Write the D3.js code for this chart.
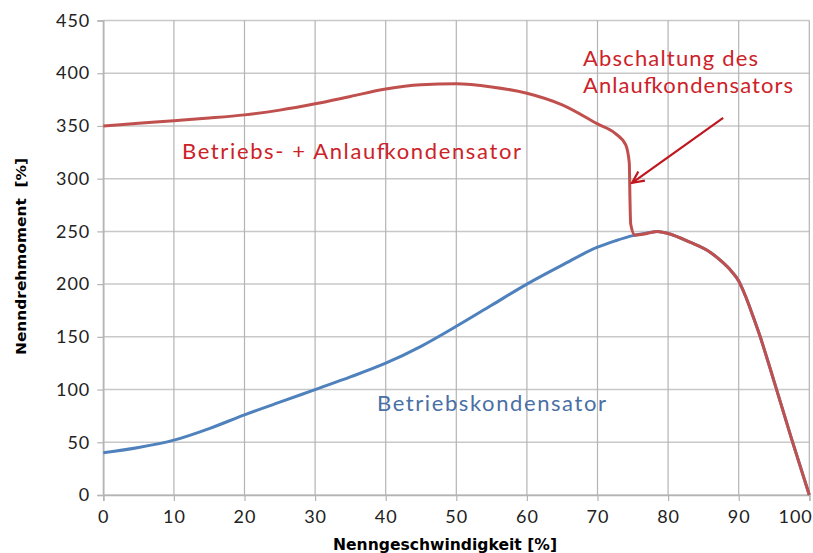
<!DOCTYPE html>
<html>
<head>
<meta charset="utf-8">
<script src="https://cdn.jsdelivr.net/npm/d3@7"></script>
<style>
  body { margin: 0; background: #fff; }
  svg { display: block; }
</style>
</head>
<body>
<div id="chart"></div>
<script>
// DATA
const xTicks = [0, 10, 20, 30, 40, 50, 60, 70, 80, 90, 100];
const yTicks = [0, 50, 100, 150, 200, 250, 300, 350, 400, 450];

// Betriebs- + Anlaufkondensator
const redX = [0, 5, 10, 15, 20, 25, 30, 35, 40, 45, 50, 55, 60, 65, 70, 72.5, 74, 74.5, 74.6, 74.7, 75.3, 77, 78.5, 80, 83, 86, 87.5, 89, 90, 91, 92, 93, 95, 97.5, 100];
const redY = [350, 352.5, 355, 357.5, 360.5, 365, 371, 378, 385, 389, 390, 387, 381, 370, 352, 343, 332, 315, 280, 257, 246.5, 248, 250, 248, 240, 230, 222, 212, 203, 188, 170, 151, 108, 53, 0];

// Betriebskondensator
const blueX = [0, 5, 10, 15, 20, 25, 30, 35, 40, 45, 50, 55, 60, 65, 70, 72.5, 75, 77, 78.5, 80, 83, 86, 87.5, 89, 90, 91, 92, 93, 95, 97.5, 100];
const blueY = [40, 45, 52, 63, 76, 88, 100, 112, 125, 141, 160, 180, 200, 218, 235, 241, 246, 248.5, 250, 248, 240, 230, 222, 212, 203, 188, 170, 151, 108, 53, 0];

const W = 813, H = 553;
const RED = "#c0504d", BLUE = "#4f81bd";
const FONT = "Lato, 'Open Sans', sans-serif";
const TITLE_FONT = "'DejaVu Sans', sans-serif";

const svg = d3.select("#chart").append("svg")
  .attr("width", W).attr("height", H);

const x = d3.scaleLinear().domain([0, 100]).range([103.3, 809.3]);
const y = d3.scaleLinear().domain([0, 450]).range([495, 20.5]);

// GRID
svg.append("g").selectAll("line").data(yTicks).join("line")
  .attr("x1", x(0)).attr("x2", x(100))
  .attr("y1", d => y(d)).attr("y2", d => y(d))
  .style("stroke", "#c8c8c8").style("stroke-width", 1.5);

svg.append("g").selectAll("line").data(xTicks).join("line")
  .attr("x1", d => x(d)).attr("x2", d => x(d))
  .attr("y1", y(0)).attr("y2", y(450))
  .style("stroke", "#b4b4b4").style("stroke-width", 1.2);

// AXES
const yAxis = svg.append("g")
  .attr("transform", `translate(${x(0)},0)`)
  .call(d3.axisLeft(y).tickValues(yTicks).tickSize(6).tickPadding(7));
const xAxis = svg.append("g")
  .attr("transform", `translate(0,${y(0)})`)
  .call(d3.axisBottom(x).tickValues(xTicks).tickSize(6).tickPadding(9));

[yAxis, xAxis].forEach(a => {
  a.select(".domain").style("stroke", "#b4b4b4").style("stroke-width", 1.5);
  a.selectAll(".tick line").style("stroke", "#b4b4b4").style("stroke-width", 1.2);
  a.selectAll(".tick text")
    .style("font-family", FONT)
    .style("font-size", "18px")
    .style("letter-spacing", "1px")
    .style("fill", "#222");
});
// last x label sits flush with the right edge
xAxis.selectAll(".tick text").filter(d => d === 100)
  .attr("text-anchor", "end").attr("x", 3);

// AXIS TITLES
svg.append("text")
  .attr("x", 333).attr("y", 550)
  .attr("textLength", 224).attr("lengthAdjust", "spacingAndGlyphs")
  .text("Nenngeschwindigkeit [%]")
  .style("font-family", TITLE_FONT)
  .style("font-weight", "bold")
  .style("font-size", "15px")
  .style("fill", "#000");

svg.append("text")
  .attr("transform", "translate(26,355) rotate(-90)")
  .attr("textLength", 197).attr("lengthAdjust", "spacingAndGlyphs")
  .attr("xml:space", "preserve")
  .text("Nenndrehmoment  [%]")
  .style("font-family", TITLE_FONT)
  .style("font-weight", "bold")
  .style("font-size", "14px")
  .style("fill", "#000");

// CURVES
const line = d3.line()
  .x(d => x(d[0])).y(d => y(d[1]))
  .curve(d3.curveMonotoneX);

svg.append("path")
  .datum(blueX.map((v, i) => [v, blueY[i]]))
  .attr("d", line)
  .style("fill", "none").style("stroke", BLUE).style("stroke-width", 3);

svg.append("path")
  .datum(redX.map((v, i) => [v, redY[i]]))
  .attr("d", line)
  .style("fill", "none").style("stroke", RED).style("stroke-width", 3);

// LABELS
const labelRed = "#cc2229", labelBlue = "#4a6fa5";
function label(tx, ty, str, len, color) {
  svg.append("text").attr("x", tx).attr("y", ty)
    .attr("textLength", len).attr("lengthAdjust", "spacing")
    .text(str)
    .style("font-family", FONT).style("font-size", "22px").style("fill", color);
}
label(182, 159, "Betriebs- + Anlaufkondensator", 339, labelRed);
label(377, 411, "Betriebskondensator", 229, labelBlue);
label(583, 66, "Abschaltung des", 175, labelRed);
label(583, 93, "Anlaufkondensators", 210, labelRed);

// ARROW
const arrowFrom = [87.8, 357.7], arrowTo = [74.9, 296];
const ax1 = x(arrowFrom[0]), ay1 = y(arrowFrom[1]);
const ax2 = x(arrowTo[0]), ay2 = y(arrowTo[1]);
const ang = Math.atan2(ay2 - ay1, ax2 - ax1);
const hl = 13, ha = 0.45;
svg.append("line")
  .attr("x1", ax1).attr("y1", ay1).attr("x2", ax2).attr("y2", ay2)
  .style("stroke", "#c0161e").style("stroke-width", 2.2);
svg.append("path")
  .attr("d", `M${ax2 - hl * Math.cos(ang - ha)},${ay2 - hl * Math.sin(ang - ha)} L${ax2},${ay2} L${ax2 - hl * Math.cos(ang + ha)},${ay2 - hl * Math.sin(ang + ha)}`)
  .style("fill", "none").style("stroke", "#c0161e").style("stroke-width", 2.2);
</script>
</body>
</html>
